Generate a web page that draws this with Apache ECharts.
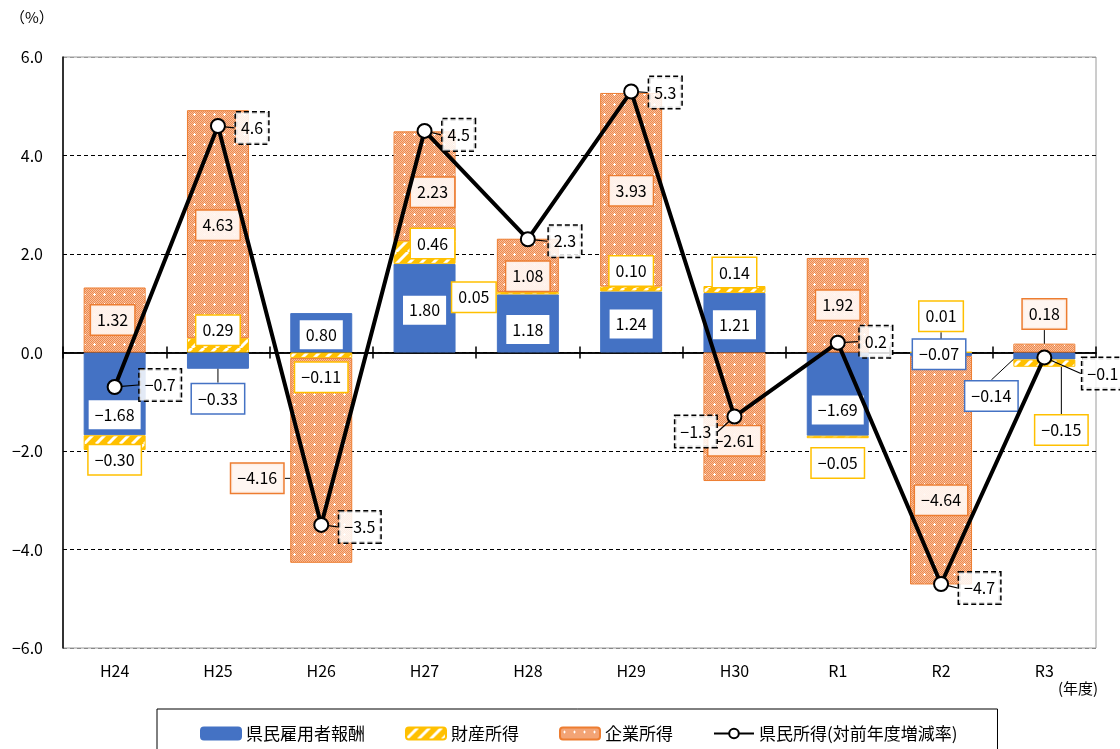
<!DOCTYPE html>
<html>
<head>
<meta charset="utf-8">
<script src="https://cdn.jsdelivr.net/npm/echarts@6/dist/echarts.min.js"></script>
<style>
html,body{margin:0;padding:0;background:#fff;}
#chart{width:1120px;height:749px;}
</style>
</head>
<body>
<div id="chart"></div>
<script>
// ---- data ----
const categories = ['H24','H25','H26','H27','H28','H29','H30','R1','R2','R3'];
const employeeComp = [-1.68, -0.33, 0.80, 1.80, 1.18, 1.24, 1.21, -1.69, -0.07, -0.14];
const propertyIncome = [-0.30, 0.29, -0.11, 0.46, 0.05, 0.10, 0.14, -0.05, 0.01, -0.15];
const corporateIncome = [1.32, 4.63, -4.16, 2.23, 1.08, 3.93, -2.61, 1.92, -4.64, 0.18];
const incomeGrowth = [-0.7, 4.6, -3.5, 4.5, 2.3, 5.3, -1.3, 0.2, -4.7, -0.1];
const yTicks = [-6, -4, -2, 0, 2, 4, 6];
const seriesNames = ['県民雇用者報酬', '財産所得', '企業所得', '県民所得(対前年度増減率)'];

// ---- label placement (pixel offsets, styling only) ----
const barLabelOffsets = [
  [[0,21],[0,38],[0,2],[0,2],[0,6],[0,2],[0,2],[0,16],[-2,0],[-53,40]],
  [[0,17],[0,-15],[0,22],[8,-9],[-54,4],[0,-18],[0,-17],[0,26],[0,-36],[17,67]],
  [[-2,0],[0,1],[-64,18],[8,6],[0,11],[0,1],[0,24],[0,0],[0,30],[0,-34]]
];
const barLabelLines = [
  [false,true,false,false,false,false,false,false,false,true],
  [false,false,false,false,false,false,false,false,true,true],
  [false,false,true,false,false,false,false,false,false,true]
];
const lineLabelOffsets = [[7,-2],[0,2],[0,2],[0,4],[3,2],[0,1],[0,15],[4,-1],[0,4],[20,16]];

function fmt(v, d) {
  const s = Math.abs(v).toFixed(d);
  return v < 0 ? '−' + s : s;
}

function hatchPattern() {
  const c = document.createElement('canvas');
  c.width = 12; c.height = 12;
  const g = c.getContext('2d');
  g.fillStyle = '#FFC000';
  g.fillRect(0, 0, 12, 12);
  g.strokeStyle = '#ffffff';
  g.lineWidth = 3;
  for (let k = -12; k <= 24; k += 12) {
    g.beginPath();
    g.moveTo(k, 12);
    g.lineTo(k + 12, 0);
    g.stroke();
  }
  return c;
}
function dotPattern() {
  const c = document.createElement('canvas');
  c.width = 10; c.height = 10;
  const g = c.getContext('2d');
  g.fillStyle = '#F7BE9C';
  g.fillRect(0, 0, 10, 10);
  g.fillStyle = '#EF8B4E';
  for (let x = 0; x < 10; x++) for (let y = 0; y < 10; y++) if ((x + y) % 2 === 0) g.fillRect(x, y, 1, 1);
  g.fillStyle = '#ffffff';
  g.fillRect(4, 3, 1, 3);
  g.fillRect(3, 4, 3, 1);
  return c;
}

const blue = '#4472C4', yellow = '#FFC000', orange = '#ED7D31';
const FONT = '"Noto Sans CJK JP", "Noto Sans", sans-serif';

function barData(values, si) {
  return values.map((v, i) => ({
    value: v,
    labelLine: { show: barLabelLines[si][i] }
  }));
}

function barSeries(name, values, si, color, borderColor, labelBg) {
  return {
    name: name,
    type: 'bar',
    stack: 'total',
    barWidth: '60%',
    data: barData(values, si),
    itemStyle: { color: color, borderColor: borderColor, borderWidth: 1 },
    label: {
      show: true,
      position: 'inside',
      formatter: p => fmt(p.value, 2),
      fontFamily: FONT,
      fontSize: 16,
      color: '#000',
      backgroundColor: labelBg,
      borderColor: borderColor,
      borderWidth: 1.5,
      padding: [7, 6, 6, 6]
    },
    labelLine: { show: false, lineStyle: { color: '#000', width: 1 } },
    labelLayout: p => ({ dx: barLabelOffsets[si][p.dataIndex][0], dy: barLabelOffsets[si][p.dataIndex][1] }),
    emphasis: { disabled: true },
    z: 2
  };
}

const gridBox = { left: 63, right: 24, top: 57, bottom: 101 };
const chart = echarts.init(document.getElementById('chart'), null, { renderer: 'canvas' });
const option = {
  animation: false,
  textStyle: { fontFamily: FONT },
  grid: [
    Object.assign({ show: true, borderColor: '#9a9a9a', borderWidth: 1 }, gridBox),
    Object.assign({ show: false }, gridBox)
  ],
  xAxis: [
    {
      type: 'category', data: categories, position: 'bottom', gridIndex: 0,
      axisLine: { show: false, onZero: false }, axisTick: { show: false },
      axisLabel: { fontFamily: FONT, fontSize: 16, color: '#000', margin: 15 }
    },
    {
      type: 'category', data: categories, gridIndex: 0, position: 'top',
      axisLine: { onZero: true, lineStyle: { color: '#000', width: 1.5 } },
      axisTick: { show: true, length: 6, lineStyle: { color: '#000', width: 1.5 } },
      axisLabel: { show: false }
    },
    {
      type: 'category', data: categories, gridIndex: 1, position: 'bottom',
      axisLine: { onZero: true, lineStyle: { color: '#000', width: 1.5 } },
      axisTick: { show: true, length: 6, lineStyle: { color: '#000', width: 1.5 } },
      axisLabel: { show: false }
    }
  ],
  yAxis: [
    {
      type: 'value', gridIndex: 0, min: yTicks[0], max: yTicks[yTicks.length - 1], interval: 2,
      axisLine: { show: true, lineStyle: { color: '#000', width: 1.5 } },
      axisTick: { show: false },
      axisLabel: { fontFamily: FONT, fontSize: 16, color: '#000', margin: 20, formatter: v => fmt(v, 1) },
      splitLine: { show: true, lineStyle: { type: [4, 3], width: 1.2, color: ['#888', '#000', '#000', '#000', '#000', '#000', '#999'] } }
    },
    {
      type: 'value', gridIndex: 1, min: yTicks[0], max: yTicks[yTicks.length - 1], interval: 2,
      axisLine: { show: false }, axisTick: { show: false }, axisLabel: { show: false }, splitLine: { show: false }
    }
  ],
  legend: {
    left: 157, top: 709,
    data: seriesNames,
    itemWidth: 40, itemHeight: 12, itemGap: 40,
    padding: [16, 40, 20, 43],
    borderColor: '#000', borderWidth: 1,
    textStyle: { fontFamily: FONT, fontSize: 17, color: '#000' },
    selectedMode: false
  },
  graphic: [
    { type: 'text', left: 10, top: 10, style: { text: '（%）', font: '15px ' + FONT, fill: '#000' } },
    { type: 'text', left: 1058, top: 681, style: { text: '(年度)', font: '15px ' + FONT, fill: '#000' } }
  ],
  series: [
    barSeries(seriesNames[0], employeeComp, 0, blue, blue, '#ffffff'),
    barSeries(seriesNames[1], propertyIncome, 1, { image: hatchPattern(), repeat: 'repeat' }, yellow, '#ffffff'),
    barSeries(seriesNames[2], corporateIncome, 2, { image: dotPattern(), repeat: 'repeat' }, orange, 'rgba(255,246,240,0.95)'),
    {
      name: seriesNames[3],
      type: 'line',
      data: incomeGrowth.map((v, i) => ({ value: v, label: i === 6 ? { position: 'left' } : {} })),
      symbol: 'circle', symbolSize: 14,
      itemStyle: { color: '#fff', borderColor: '#000', borderWidth: 2 },
      lineStyle: { color: '#000', width: 4 },
      label: {
        show: true, position: 'right', distance: 10,
        formatter: p => fmt(p.value, 1),
        fontFamily: FONT, fontSize: 16, color: '#000',
        backgroundColor: 'rgba(255,255,255,0.85)',
        borderColor: '#000', borderWidth: 1.5, borderType: [5, 3],
        padding: [8, 5, 7, 5]
      },
      labelLine: { show: true, lineStyle: { color: '#000', width: 1.2 } },
      labelLayout: p => ({ dx: lineLabelOffsets[p.dataIndex][0], dy: lineLabelOffsets[p.dataIndex][1] }),
      emphasis: { disabled: true },
      z: 5
    }
  ]
};
chart.setOption(option);
</script>
</body>
</html>
